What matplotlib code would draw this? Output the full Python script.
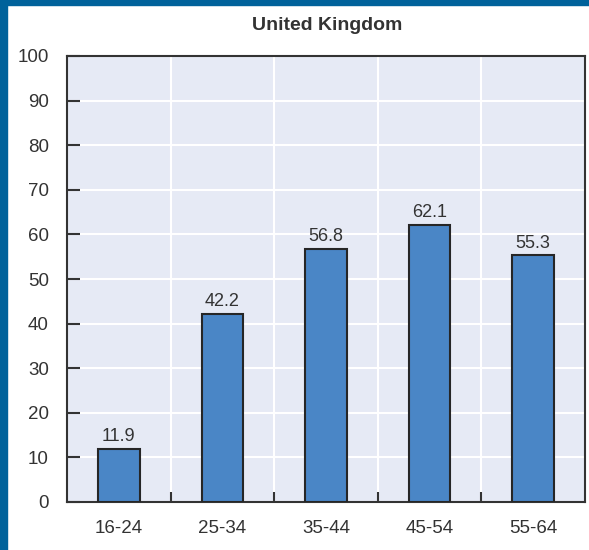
import matplotlib.pyplot as plt
from matplotlib.patches import Rectangle
import numpy as np

# data
age_groups = ['16-24', '25-34', '35-44', '45-54', '55-64']
values = [11.9, 42.2, 56.8, 62.1, 55.3]
title = 'United Kingdom'

plt.rcParams['font.family'] = ['Liberation Sans Narrow', 'Liberation Sans', 'DejaVu Sans']

fig = plt.figure(figsize=(5.89, 5.5), dpi=100)
fig.patch.set_facecolor('white')

# blue frame on the left and top
fig.patches.append(Rectangle((0, 0), 7 / 589, 1, transform=fig.transFigure,
                             color='#00629b', zorder=0))
fig.patches.append(Rectangle((0, 1 - 5 / 550), 1, 5 / 550, transform=fig.transFigure,
                             color='#00629b', zorder=0))

ax = fig.add_axes([67 / 589, 1 - 502 / 550, 518 / 589, 446 / 550])
ax.set_facecolor('#e6eaf5')

x = np.arange(len(age_groups))
ax.bar(x, values, width=0.4, color='#4a86c6', edgecolor='#262626', linewidth=1.5, zorder=3)

for xi, v in zip(x, values):
    ax.text(xi, v + 0.8, f'{v:.1f}', ha='center', va='bottom', fontsize=13, color='#333333')

ax.set_xlim(-0.5, len(age_groups) - 0.5)
ax.set_ylim(0, 100)
ax.set_yticks(range(0, 101, 10))
ax.set_xticks(x)
ax.set_xticklabels(age_groups)
ax.set_xticks(np.arange(0.5, len(age_groups) - 0.5), minor=True)

ax.grid(axis='y', color='white', linewidth=1.5, zorder=1)
ax.grid(axis='x', which='minor', color='white', linewidth=1.5, zorder=1)
ax.set_axisbelow(True)

ax.tick_params(axis='y', direction='in', length=9, width=1.5, color='#333333',
               labelsize=13.5, labelcolor='#333333', pad=13)
ax.tick_params(axis='x', which='major', length=0, labelsize=13.5, labelcolor='#333333', pad=13)
ax.tick_params(axis='x', which='minor', direction='in', length=7, width=1.5, color='#333333')

for s in ax.spines.values():
    s.set_color('#333333')
    s.set_linewidth(1.5)

fig.text(327 / 589, 1 - 25 / 550, title, ha='center', va='center',
         fontsize=14, fontweight='bold', color='#333333')

fig.savefig('out.png', dpi=100)
